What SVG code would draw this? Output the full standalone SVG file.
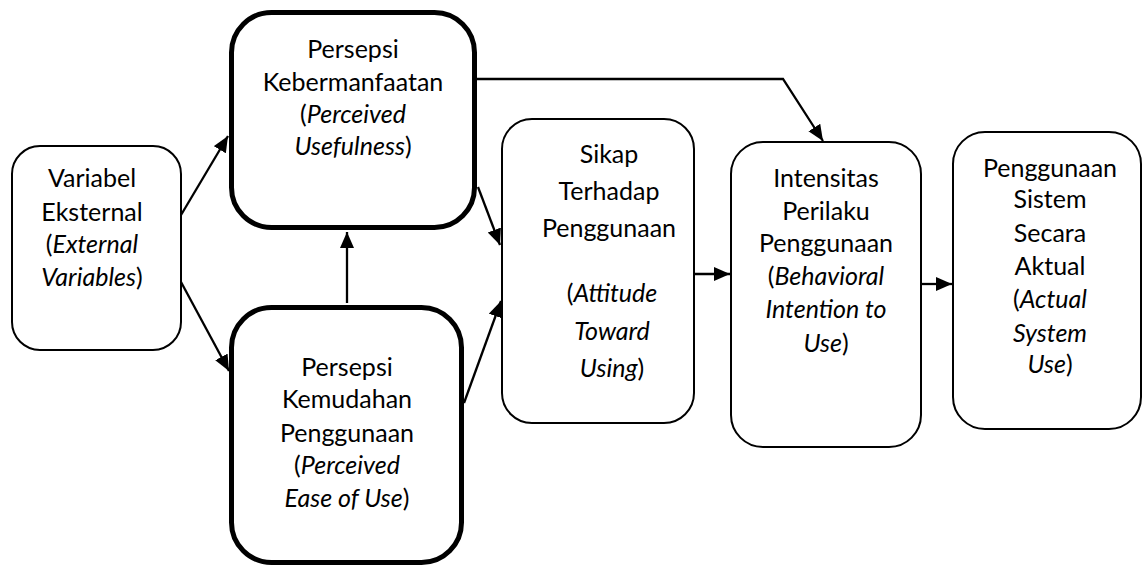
<svg xmlns="http://www.w3.org/2000/svg" width="1145" height="568" viewBox="0 0 1145 568">
<defs>
<style>
.box{fill:#fff;stroke:#000;stroke-width:2}
.thick{fill:#fff;stroke:#000;stroke-width:5}
.t{font-family:Lato,"Open Sans",sans-serif;font-size:25px;fill:#000;text-anchor:middle}
.i{font-style:italic}
.c{fill:none;stroke:#000;stroke-width:2.3}
</style>
<marker id="ah" markerUnits="userSpaceOnUse" markerWidth="18" markerHeight="16" refX="16" refY="7" orient="auto">
<path d="M0,0 L16,7 L0,14 z" fill="#000"/>
</marker>
</defs>
<rect width="1145" height="568" fill="#fff"/>
<g id="connectors">
<path class="c" d="M181,215 L228,136" marker-end="url(#ah)"/>
<path class="c" d="M181,282 L229,371" marker-end="url(#ah)"/>
<path class="c" d="M347,303 L347,232" marker-end="url(#ah)"/>
<path class="c" d="M478,187 L500,245" marker-end="url(#ah)"/>
<path class="c" d="M464,403 L501,301" marker-end="url(#ah)"/>
<path class="c" d="M477,79 L783,79 L823,141" marker-end="url(#ah)"/>
<path class="c" d="M694,274 L730,274" marker-end="url(#ah)"/>
<path class="c" d="M921,284 L952,284" marker-end="url(#ah)"/>
</g>
<g id="external">
<rect class="box" x="12" y="146" width="169" height="204" rx="28"/>
<text class="t"><tspan x="92" y="187">Variabel</tspan><tspan x="92" y="221">Eksternal</tspan><tspan x="92" y="253">(<tspan class="i">External</tspan></tspan><tspan x="92" y="286"><tspan class="i">Variables</tspan>)</tspan></text>
</g>
<g id="usefulness">
<rect class="thick" x="231.5" y="12.5" width="243" height="215" rx="40"/>
<text class="t"><tspan x="353" y="58">Persepsi</tspan><tspan x="353" y="91">Kebermanfaatan</tspan><tspan x="353" y="123">(<tspan class="i">Perceived</tspan></tspan><tspan x="353" y="155"><tspan class="i">Usefulness</tspan>)</tspan></text>
</g>
<g id="ease">
<rect class="thick" x="231.5" y="307.5" width="230" height="255" rx="40"/>
<text class="t"><tspan x="347" y="376">Persepsi</tspan><tspan x="347" y="408">Kemudahan</tspan><tspan x="347" y="442">Penggunaan</tspan><tspan x="347" y="474">(<tspan class="i">Perceived</tspan></tspan><tspan x="347" y="507"><tspan class="i">Ease of Use</tspan>)</tspan></text>
</g>
<g id="attitude">
<rect class="box" x="502" y="119" width="192" height="304" rx="30"/>
<text class="t"><tspan x="609" y="163">Sikap</tspan><tspan x="609" y="200">Terhadap</tspan><tspan x="609" y="237">Penggunaan</tspan><tspan x="612" y="302">(<tspan class="i">Attitude</tspan></tspan><tspan x="612" y="340"><tspan class="i">Toward</tspan></tspan><tspan x="612" y="377"><tspan class="i">Using</tspan>)</tspan></text>
</g>
<g id="intention">
<rect class="box" x="731" y="142" width="190" height="305" rx="32"/>
<text class="t"><tspan x="826" y="187">Intensitas</tspan><tspan x="826" y="220">Perilaku</tspan><tspan x="826" y="252">Penggunaan</tspan><tspan x="826" y="285">(<tspan class="i">Behavioral</tspan></tspan><tspan x="826" y="318"><tspan class="i">Intention to</tspan></tspan><tspan x="826" y="352"><tspan class="i">Use</tspan>)</tspan></text>
</g>
<g id="actual">
<rect class="box" x="953" y="132" width="188" height="297" rx="32"/>
<text class="t"><tspan x="1050" y="177">Penggunaan</tspan><tspan x="1050" y="208">Sistem</tspan><tspan x="1050" y="242">Secara</tspan><tspan x="1050" y="275">Aktual</tspan><tspan x="1050" y="308">(<tspan class="i">Actual</tspan></tspan><tspan x="1050" y="342"><tspan class="i">System</tspan></tspan><tspan x="1050" y="373"><tspan class="i">Use</tspan>)</tspan></text>
</g>
</svg>
